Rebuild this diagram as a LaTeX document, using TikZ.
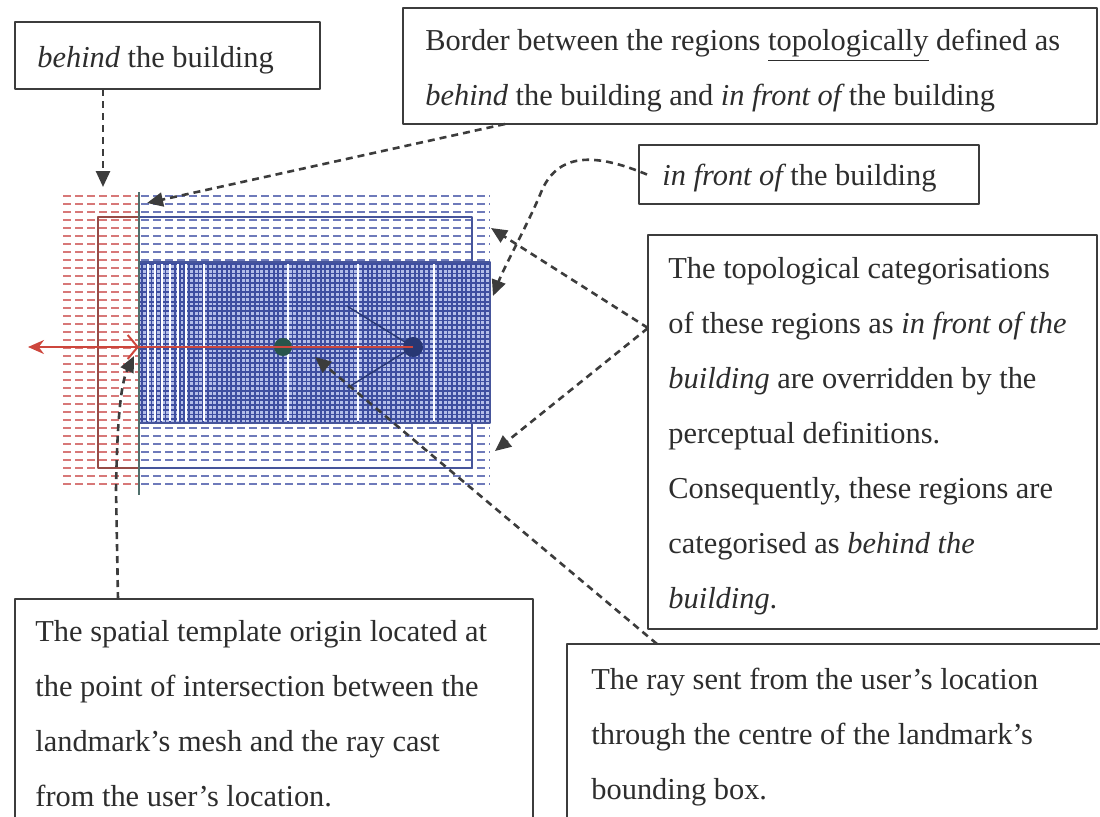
\documentclass[tikz,border=0pt]{standalone}
\usepackage{fontspec}
\setmainfont{Liberation Serif}
\usetikzlibrary{arrows.meta}
\definecolor{Ink}{RGB}{45,45,45}
\definecolor{Frame}{RGB}{60,60,60}
\definecolor{Rdash}{RGB}{215,120,120}
\definecolor{Bdash}{RGB}{110,122,186}
\definecolor{Rline}{RGB}{150,75,70}
\definecolor{Bline}{RGB}{70,85,155}
\definecolor{Mdark}{RGB}{62,78,160}
\definecolor{Mlight}{RGB}{180,190,232}
\definecolor{Edge}{RGB}{80,112,108}
\definecolor{Ray}{RGB}{205,70,60}
\definecolor{Cdot}{RGB}{40,85,75}
\definecolor{Udot}{RGB}{40,55,115}

\begin{document}
\begin{tikzpicture}[x=0.5pt,y=-0.5pt,line join=round,
  panel/.style={draw=Frame,line width=1pt,inner sep=0pt,outer sep=0pt,anchor=north west},
  note/.style={inner sep=0pt,anchor=north west,align=left,text=Ink,font=\fontsize{15.2}{27.5}\selectfont},
  pointer/.style={draw=Frame,line width=1.3pt,dash pattern=on 3.5pt off 2.5pt,-{Triangle[length=8pt,width=7pt]}}]
\path[use as bounding box] (0,0) rectangle (1100,816);
% perceptual regions: behind (red) and in front of (blue)
\foreach \y in {196,204,...,484} {
  \draw[Rdash,line width=0.8pt,dash pattern=on 4pt off 2pt] (63,\y) -- (139,\y);
  \draw[Bdash,line width=0.8pt,dash pattern=on 4pt off 2pt] (141,\y) -- (490,\y);
}
% bounding box of the landmark
\draw[Rline,line width=1.2pt] (139,217) -- (98,217) -- (98,468) -- (139,468);
\draw[Bline,line width=1.2pt] (139,217) -- (472,217) -- (472,468) -- (139,468);
% landmark mesh
\fill[Mlight] (140,262) rectangle (490,423);
\foreach \x in {142,146.7,...,490} \draw[Mdark,line width=0.9pt] (\x,262) -- (\x,423);
\foreach \y in {264,268.7,...,423} \draw[Mdark,line width=0.9pt] (140,\y) -- (490,\y);
\foreach \x in {148,155,162,170,178,186,204,288,358,434} \draw[white,line width=0.6pt] (\x,264) -- (\x,421);
\draw[Bline,line width=1.2pt] (140,262) -- (490,262) -- (490,423) -- (140,423);
% topological border
\draw[Edge,line width=1pt] (139,192) -- (139,495);
% ray, centre and user
\coordinate (origin) at (139,347);
\coordinate (far) at (28,347);
\coordinate (viewL) at (347,306);
\coordinate (viewR) at (347,388);
\node[circle,fill=Cdot,minimum size=9pt,inner sep=0pt] (centre) at (283,347) {};
\node[circle,fill=Udot,minimum size=10pt,inner sep=0pt] (user) at (413,347) {};
\draw[Udot,line width=0.7pt] (viewL) -- (user.center) -- (viewR);
\draw[Ray,line width=1pt] (user.center) -- (origin);
\draw[Ray,line width=1pt,{Stealth[length=8pt,width=7pt]}-{Straight Barb[length=5pt,width=12pt]}] (far) -- (origin);
% text boxes
\node[panel,minimum width=152.5pt,minimum height=33.5pt] (behind) at (15,22) {};
\node[note] (behindT) at ([shift={(22,24)}]behind.north west) {{\itshape behind} the building};
\node[panel,minimum width=347pt,minimum height=58pt] (border) at (403,8) {};
\node[note] (borderT) at ([shift={(22,21)}]border.north west) {Border between the regions \underline{topologically} defined as\\{\itshape behind} the building and {\itshape in front of} the building};
\node[panel,minimum width=170pt,minimum height=29.5pt] (front) at (639,145) {};
\node[note] (frontT) at ([shift={(23,19)}]front.north west) {{\itshape in front of} the building};
\node[panel,minimum width=224.5pt,minimum height=197pt] (cat) at (648,235) {};
\node[note] (catT) at ([shift={(20,22)}]cat.north west) {The topological categorisations\\of these regions as {\itshape in front of the}\\{\itshape building} are overridden by the\\perceptual definitions.\\Consequently, these regions are\\categorised as {\itshape behind the}\\{\itshape building}.};
\node[panel,minimum width=259pt,minimum height=120pt] (spatial) at (15,599) {};
\node[note] (spatialT) at ([shift={(20,21)}]spatial.north west) {The spatial template origin located at\\the point of intersection between the\\landmark's mesh and the ray cast\\from the user's location.};
\node[panel,minimum width=270pt,minimum height=100pt] (raybox) at (567,644) {};
\node[note] (rayT) at ([shift={(24,24)}]raybox.north west) {The ray sent from the user's location\\through the centre of the landmark's\\bounding box.};
% pointers
\coordinate (edgetop) at (147,203);
\coordinate (meshright) at (493,296);
\coordinate (stripup) at (491,228);
\coordinate (stripdown) at (495,451);
\coordinate (raymid) at (315,357);
\coordinate (hit) at (134,356);
\draw[pointer] ([xshift=44pt]behind.south west) -- ++(0,98);
\draw[pointer] ([xshift=51pt]border.south west) -- (edgetop);
\draw[pointer] ([xshift=4pt]front.west) .. controls (600,155) and (560,150) .. (542,190) .. controls (530,220) and (505,265) .. (meshright);
\draw[pointer] ([yshift=-46.5pt]cat.north west) -- (stripup);
\draw[pointer] ([yshift=-46.5pt]cat.north west) -- (stripdown);
\draw[pointer] ([xshift=45pt]raybox.north west) -- (raymid);
\draw[pointer] ([xshift=51.5pt]spatial.north west) -- (116,490) .. controls (117,430) and (120,385) .. (hit);
\end{tikzpicture}
\end{document}
